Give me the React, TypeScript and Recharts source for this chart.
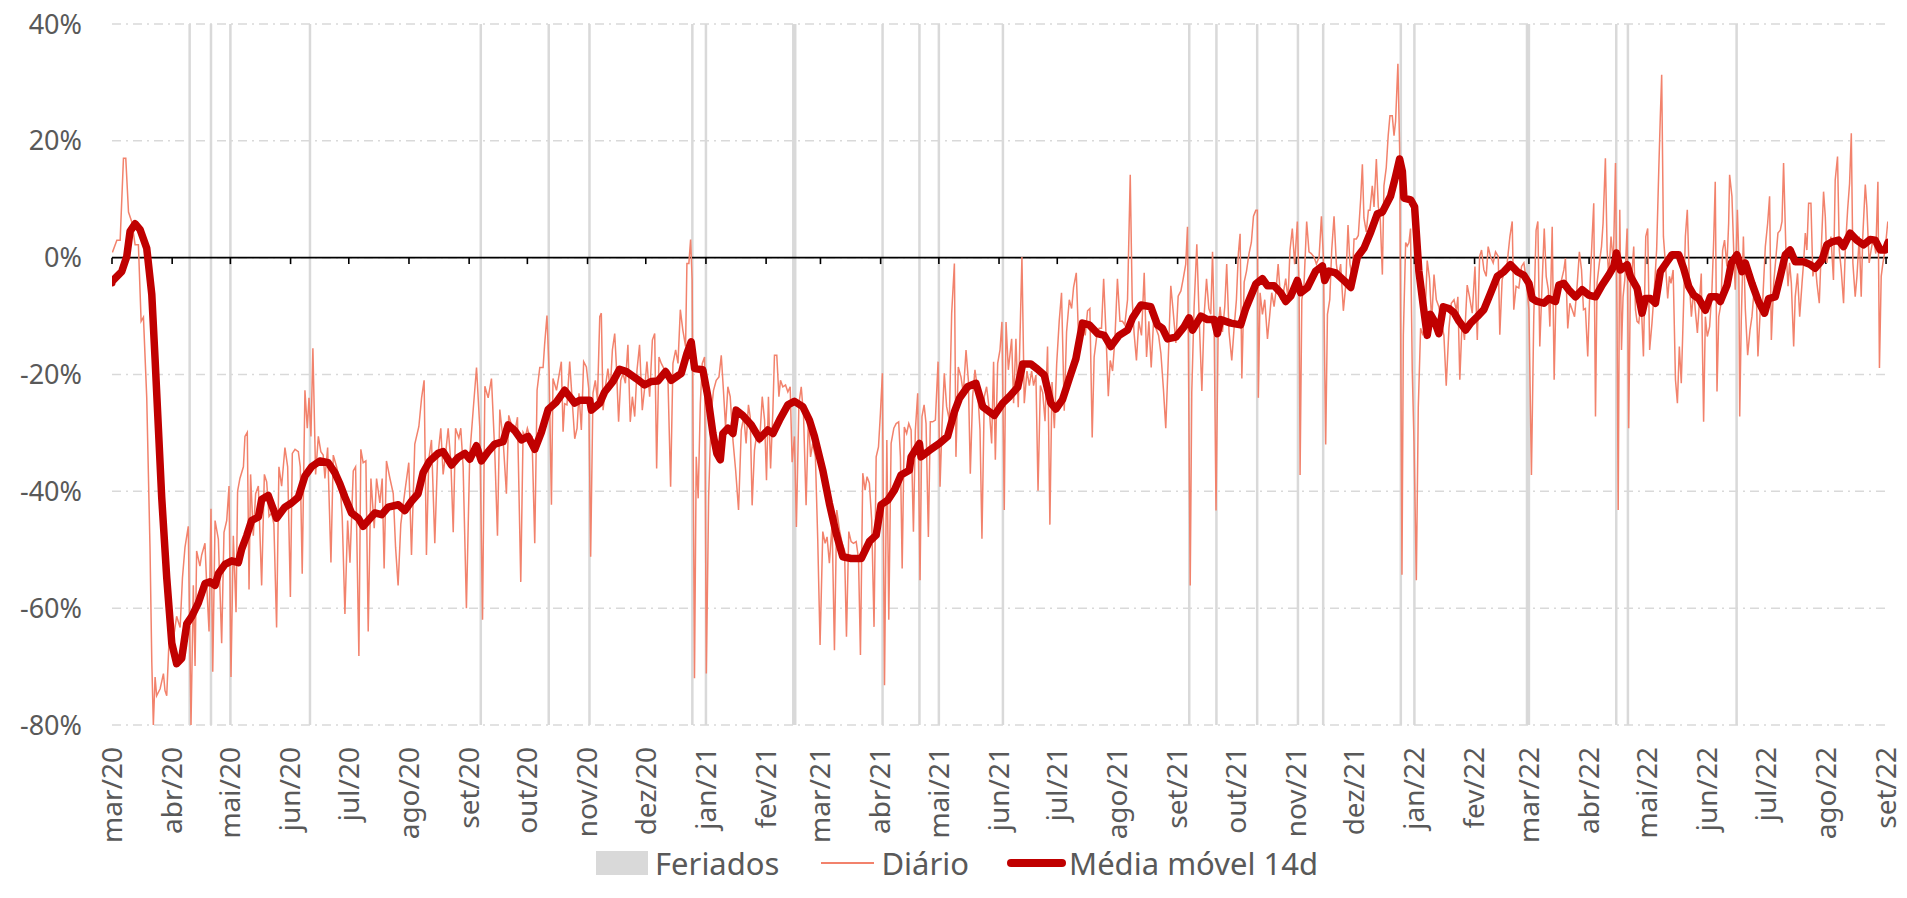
import React from "react"
import { LineChart, Line, XAxis, YAxis, CartesianGrid, ReferenceLine } from "recharts"

// x = days since 2020-03-01
const MONTH_TICKS = [0, 31, 61, 92, 122, 153, 184, 214, 245, 275, 306, 337, 365, 396, 426, 457, 487, 518, 549, 579, 610, 640, 671, 702, 730, 761, 791, 822, 852, 883, 914]
const MONTH_LABELS = [
  "mar/20", "abr/20", "mai/20", "jun/20", "jul/20", "ago/20", "set/20", "out/20", "nov/20", "dez/20",
  "jan/21", "fev/21", "mar/21", "abr/21", "mai/21", "jun/21", "jul/21", "ago/21", "set/21", "out/21", "nov/21", "dez/21",
  "jan/22", "fev/22", "mar/22", "abr/22", "mai/22", "jun/22", "jul/22", "ago/22", "set/22",
]
const Y_TICKS = [-80, -60, -40, -20, 0, 20, 40]

const HOLIDAYS = [40, 51, 61, 102, 190, 225, 246, 299, 306, 351, 352, 397, 416, 426, 459, 555, 569, 590, 611, 624, 664, 671, 729, 730, 775, 781, 837]

// [day, %]
const DAILY: [number, number][] = [
  [0.2, 0.9], [2.5, 3], [4.2, 3], [5.9, 17], [7.1, 17], [8.5, 7.8], [10.2, 6.1], [11.9, 2.2], [13.6, 2.2], [15, -10.9], [16.2, -10.2], [17.9, -24], [19.6, -50], [20.5, -69.2], [21.3, -80], [22.2, -71.8], [23, -75], [24.8, -73.8], [26.5, -71.2], [27.3, -74.1], [28.2, -75], [29.9, -61.4], [31.6, -65.3], [33.3, -61.4], [35.1, -63.3], [36.3, -54.8], [37.6, -49.6], [39.3, -46], [40.7, -80], [41.9, -56.1], [42.8, -69.9], [43.6, -50.2], [45.3, -52.8], [46.2, -50.9], [47.9, -48.9], [48.8, -56.1], [50, -64], [51, -43], [51.9, -70.9], [53.1, -45], [54.8, -48.2], [56.5, -66], [57.7, -47], [59.1, -45], [60.3, -39.1], [61.3, -71.8], [62.5, -47.6], [63.9, -60.7], [64.7, -40], [65.9, -37.8], [67.7, -35.8], [68.5, -30.6], [69.7, -29.9], [70.6, -56.8], [71.4, -37.1], [72.8, -47.6], [74, -40.4], [75.4, -39.1], [77.1, -56.1], [78.5, -37.1], [79.7, -38.4], [80.9, -44.3], [82.2, -43.7], [83.4, -45.6], [84.8, -63.3], [86, -35.8], [87.4, -39.1], [89.1, -32.5], [90.5, -35.8], [91.9, -58.1], [92.9, -33.5], [94.3, -32.8], [96, -33.2], [97, -35.8], [98, -54.1], [99.4, -22.7], [100.6, -29.2], [101.5, -24], [102.5, -30.6], [103.5, -15.5], [104.9, -37.1], [106.3, -30.6], [107.6, -33.2], [108.8, -33.8], [109.7, -37.8], [111.1, -32.5], [112.8, -52.2], [114, -33.8], [115.7, -35.8], [117.4, -38.4], [118.6, -44.3], [120, -61], [121.4, -45], [122.6, -52.2], [124.3, -36.5], [125.5, -35.8], [127.2, -68.2], [128.2, -32.8], [129.4, -35.1], [130.8, -34.8], [132, -64], [133.4, -37.8], [135.1, -46.3], [136.3, -37.8], [138, -42], [139.2, -37.8], [140.2, -53.2], [141.4, -34.8], [143.2, -37.8], [144.9, -40.4], [146.1, -49.6], [147.4, -56.1], [148.8, -45.6], [150.9, -40], [152.9, -35.1], [154.3, -50.9], [156, -31.9], [158.1, -28.9], [159.5, -24], [160.8, -21], [162, -50.9], [163.2, -34.5], [164.6, -31.2], [166.3, -48.9], [167.7, -34.5], [169.4, -29.2], [170.6, -37.1], [171.8, -33.8], [173.2, -29.2], [174.6, -35.1], [175.8, -47], [177, -29.2], [178.7, -30.9], [179.7, -29.2], [180.9, -35.8], [182.6, -60], [184.3, -33.8], [186.1, -26], [187.8, -18.8], [189.5, -29.2], [190.9, -62], [192.1, -22], [193.8, -24], [195.5, -20.7], [197.2, -33.2], [198.6, -47.6], [199.8, -26], [201.5, -31.2], [203.2, -40.4], [204.4, -27], [205.8, -28.6], [207.5, -29.9], [208.9, -27.3], [210.6, -55.5], [211.8, -29.9], [213, -30.6], [214, -29.2], [215.2, -30.6], [216.4, -30.6], [217.8, -48.9], [219, -22.7], [220.4, -18.8], [222.1, -18.8], [222.9, -14.8], [224.1, -9.9], [225.2, -19.4], [226.4, -42.3], [227.2, -20.7], [229, -22.7],
  [231.5, -17.8], [232.4, -29.8], [233.2, -25], [234.4, -25.2], [235.8, -17.8], [237.2, -25], [238.4, -31], [239.6, -29.2], [240.6, -23.2], [241.8, -29.5], [243, -17.8], [244.4, -18.7], [245.6, -22.4], [246.6, -51.2], [247.8, -23.2], [249, -21], [250.1, -24.4], [251.3, -10.1], [252.1, -9.5], [253, -26.1], [254.2, -22.1], [255.5, -19], [256.7, -22.7], [257.8, -15.8], [259, -13], [259.8, -18.1], [261, -28.1], [262.1, -21], [263.3, -19.8], [264.5, -21.5], [265.8, -14.9], [267, -28.1], [268.1, -23.8], [269.3, -27.2], [270.5, -19.2], [271.8, -14.9], [273.2, -26.1], [274.4, -22.4], [275.6, -17.8], [277, -23.8], [278.4, -14.1], [279.6, -13], [280.6, -36.1], [281.8, -17], [283, -18.1], [284.7, -19.2], [286.4, -20.4], [287.8, -39.2], [289, -18.1], [290.4, -15.8], [291.6, -18.1], [292.8, -8.9], [294.1, -12.4], [295.5, -15.2], [296.2, -1], [297.2, -1], [298.1, 3.1], [298.9, -3.8], [300.1, -72], [301, -34.1], [302, -41.2], [303.1, -25], [304.1, -18.1], [305.3, -17], [306.2, -71.2], [307.4, -40.9], [308.7, -26.6], [309.9, -22.7], [311.3, -21], [312.7, -20.4], [313.9, -16.7], [315.1, -23.2], [316.1, -29], [317.3, -22.1], [318.5, -23.8], [319.9, -31.2], [321.3, -36.4], [322.8, -43.2], [324.2, -29.5], [325.5, -27.2], [326.7, -31.8], [327.9, -25.2], [328.8, -27.2], [329.8, -42.4], [331, -33], [332.2, -30.1], [333.6, -31.8], [335, -23.8], [336.2, -27.8], [337.2, -38.1], [338.2, -23.8], [339.3, -36.1], [340.5, -26.1], [341.3, -16.7], [342.5, -16.7], [343.6, -23.8], [344.4, -21], [345.6, -22.1], [347, -21.8], [348.2, -23], [349.4, -22.1], [350.4, -35], [351.6, -30.6], [352.6, -46.1], [353.9, -25], [355.1, -22.1], [356.3, -27.2], [357.6, -42.4], [358.8, -27.2], [359.9, -34.1], [361, -31.8], [362.4, -34.1], [363.6, -48.3], [364.8, -66.3], [366.2, -46.9], [367.4, -48.9], [368.4, -47.8], [369.6, -52.3], [371, -45.5], [372.2, -67.2], [373.4, -43.2], [374.8, -46.6], [376.2, -48.9], [377.4, -50.1], [378.4, -64.9], [379.6, -46.9], [380.8, -48.6], [382, -48.9], [383.4, -48.6], [384.6, -51.5], [385.6, -68], [386.8, -36.9], [388, -39.8], [389, -37.5], [390.2, -38.6], [391.4, -45], [392.6, -63.2], [393.7, -34.1], [394.9, -32.4], [395.9, -26.6], [396.9, -19.8], [398, -73.2], [399.2, -31.2], [400.2, -62], [401.4, -31.8], [402.8, -29.2], [404, -28.4], [405.3, -28.1], [406.2, -34.1], [407.1, -53.2], [408.2, -29], [409.4, -30.1], [410.5, -28.4], [411.7, -29.5], [412.9, -46.9], [413.9, -29.5], [415.1, -23.2], [416.3, -55.2], [417.3, -27.2], [418.4, -25.2], [419.4, -28.4], [420.6, -47.8], [421.6, -28.1], [422.8, -28.1], [424.2, -27.8], [425.6, -17.8], [426.6, -39.2], [427.6, -29], [428.8, -19.8], [430, -25.5], [431.4, -27.8], [432.6, -9.5], [434, -1], [434.8, -34.1], [436, -18.7], [437.4, -20.4], [438.6, -23.2], [440, -15.8], [441.2, -21], [442.2, -37], [443.4, -23.8], [444.6, -19.2], [446, -22.7], [447.2, -29.5], [448.2, -48.1], [449.4, -23.8], [450.6, -22.1], [452, -26.1], [453.2, -31.8], [454.2, -17.8], [455.1, -34.6], [456.3, -18.1], [457.5, -15.8], [458.5, -11], [459.7, -43.2], [460.6, -11], [461.8, -19.2],
  [463.5, -13.9], [464.5, -24.9], [465.7, -13.9], [466.9, -25.6], [468, -10.9], [468.8, 0.1], [470, -24.9], [471.4, -19.4], [472.6, -21.9], [473.8, -19.4], [474.8, -21.9], [476, -20.1], [477.1, -39.9], [478.3, -21.9], [479.5, -23.1], [480.7, -28], [482, -15.2], [483.2, -45.7], [484.3, -21.3], [485.5, -29.2], [486.7, -18.2], [488, -10.9], [489.2, -6], [490.6, -26.2], [491.8, -12.7], [493.2, -7.2], [494.4, -8.7], [495.4, -5.1], [496.8, -2.6], [497.8, -12.1], [498.8, -15.2], [500.2, -10.9], [501.4, -13.3], [502.6, -9.1], [503.8, -8.7], [505, -30.8], [506, -17], [507.4, -13.3], [508.6, -12.1], [509.8, -12.1], [510.9, -3.6], [512.1, -13], [513.3, -23.7], [514.3, -17.6], [515.5, -19.4], [516.7, -13.9], [518, -3.6], [519.3, -10.9], [520.6, -10.9], [521.8, -11.5], [523.2, -7.2], [524.6, 14.2], [525.6, -7.2], [526.6, -13], [527.8, -17.6], [529, -10.9], [530.4, -13.3], [531.8, -2.6], [533, -17], [534.2, -10.9], [535.4, -18.8], [536.6, -10.9], [537.8, -12.1], [539.2, -13.3], [540.4, -16.4], [541.7, -22.5], [542.9, -29.2], [544.1, -18.2], [545.5, -4.8], [546.7, -9.1], [548.1, -14.6], [549.3, -6.6], [550.7, -5.7], [551.9, -3.6], [553.2, -1.1], [554.1, 5.3], [554.6, -17.6], [555.5, -56.1], [556.3, -23.1], [557.5, -8.4], [558.9, 2.3], [560.1, -10.3], [561.5, -22.8], [562.7, -9.7], [563.9, -3.6], [565.1, -8.7], [566.1, -9.7], [567, 1], [567.8, -10.9], [568.8, -43.3], [569.9, -12.1], [570.9, -8.4], [572.1, -12.7], [573.3, -8.4], [574.3, -1.1], [575.5, -12.7], [576.9, -17.6], [578.1, -12.1], [579.3, -7.2], [580.3, 0.7], [581.2, 4.1], [582.1, -20.7], [583.3, -4.2], [584.5, -2.3], [585.8, 0.7], [587, 2.6], [588.1, 7.1], [589.3, 8.1], [590.1, 8.1], [590.6, -24], [591.5, -6], [592.7, -9.7], [593.9, -7.2], [595.3, -13.9], [596.5, -9.7], [597.5, -6], [598.7, -8.4], [599.6, -6], [600.8, -1.1], [602.1, -7.2], [603.5, -6], [604.7, -3.6], [605.9, -7.2], [606.9, 1.3], [608.1, 5], [609.3, -1.1], [610.7, 6.2], [611.6, -4.8], [612.1, -37.2], [613, -7.2], [614.1, -4.8], [615.5, 6.2], [616.7, 1], [617.9, 0.7], [619.3, 0.1], [620.5, -1.1], [621.9, 0.1], [623.1, 7.1], [624.1, 0.1], [625.3, -32], [626.2, -9.7], [627.4, -7.2], [628.4, 1.3], [629.6, 7.1], [630.8, -1.1], [631.8, -3.6], [633, -1.1], [634.4, -9.1], [635.6, -4.8], [636.8, 5.6], [637.8, -1.1], [639, -3.6], [639.9, 3.2], [641.1, 3.2], [642.1, 3.8], [643.3, 9.9], [644.2, 16], [645, 6.8], [646.2, 4.4], [647.3, 8.1], [648.1, 8.1], [649.3, 12.3], [650.2, 8.7], [651.4, 16.9], [652.4, 8.7], [653.3, 7.5], [654.5, -2.9], [655.3, 12.3], [656.5, 15.4], [657.5, 20.9], [658.4, 24.3], [659.6, 24.3], [660.5, 20.9], [661.3, 23.3], [662.5, 33.2], [663.4, 18.5], [663.9, -10.3], [664.6, -54.3], [665.3, -13.3], [666.5, 2.6], [667.3, 2], [668.2, 2.6], [669, 5], [669.9, -19.4], [670.8, -31.7], [672, -55.2], [673, -25.6], [674.2, -12.1], [675.4, -13.3], [676.4, -10.9], [677.6, -0.5], [678.8, -3.6], [679.9, -10.9], [681.1, -2.9], [682.3, -7.2], [683.6, -8.4], [684.8, -10.9], [686.2, -13.3], [687.4, -21.9], [688.8, -12.1], [690, -7.8],
  [691.4, -7.2], [692.6, -9], [693.4, -6.7], [694.4, -20.9], [695.6, -10.7], [696.8, -14.1], [698.2, -4.7], [699.4, -6.7], [700.8, -9.5], [702.2, -1.5], [703.4, -14.1], [704.6, 0.2], [705.6, 1.3], [706.8, -2.1], [708, -3.2], [709, 1.9], [710.2, 0.2], [711.6, -0.9], [712.8, 1], [714.2, 0.2], [715, -13.2], [716.2, -3.8], [717.6, -2.1], [718.8, -0.9], [720.2, 3.6], [721.4, 6.2], [722.2, -8.9], [723.4, -4.9], [724.8, -5.2], [726.2, -1.5], [727.4, -0.9], [728.6, -3.8], [730, -8.9], [731.3, -37.2], [732.5, -10.1], [733.7, 4.7], [734.6, 6.2], [735.6, -15.2], [736.8, -4.4], [737.9, 5], [738.9, -3.2], [740, -5.5], [740.8, -11.8], [742, 5.3], [743, -20.9], [744, -5.5], [745.4, -6.7], [746.8, -3.8], [748, -2.1], [748.8, -0.1], [750, -12.1], [751.1, -7.8], [752.3, -8.9], [753.5, -10.1], [754.7, -5.5], [756, 1], [757.1, -2.1], [758.1, -8.9], [759.1, -8.7], [760.3, -16.9], [761.4, -5.5], [762.6, 3.6], [763.4, 9.3], [764.3, -27.2], [765.1, -4.4], [766.3, -0.9], [767.4, 1.9], [768.2, 5.9], [769.4, 17], [770.3, 1.3], [771.1, -3.2], [772.3, 3.6], [773.5, -0.9], [774.6, 16.2], [775.4, -10.1], [776, -43.2], [776.8, 8.2], [777.7, -15.8], [778.5, -6.7], [779.4, -3.8], [780.6, 5], [781.4, -29.2], [782.3, -4.4], [783.2, -2.1], [784, 1.9], [784.9, -8.9], [785.7, -10.9], [786.6, -11.2], [787.8, -7.2], [789, -16.9], [790.2, 3.6], [791.2, 5], [792.2, -15.8], [793.4, -11.2], [794.6, -5.5], [795.8, 1.3], [796.9, 15], [797.7, 24.2], [798.4, 31.3], [799.3, 3.6], [800.3, -0.9], [801.5, -7], [802.4, -3.2], [803.2, -4.4], [804.3, -2.1], [805.5, -20.9], [806.5, -24.9], [807.5, -15.2], [808.5, -21.5], [809.7, -7.8], [810.6, 3.6], [811.6, 8.2], [812.7, -4.4], [813.7, -10.1], [814.9, -5.5], [815.7, -8.9], [816.8, -12.9], [817.8, -7.8], [818.8, -2.7], [820, -28.1], [820.9, -10.1], [821.9, -13.5], [823.1, -11.8], [824.3, -5.5], [825.2, 3], [826, 13], [826.9, -22.9], [827.8, -10.1], [829, -7.8], [829.8, 1.3], [830.8, 3], [832, -1.5], [832.9, 5.9], [833.4, 14.2], [834.6, 10.5], [835.5, 1.3], [836.3, -5.5], [837.4, 8.2], [838.1, 0.7], [838.6, -27.2], [839.4, -10.9], [840.5, 3.6], [841.5, -8.9], [842.7, -16.7], [843.9, -12.4], [844.9, -10.1], [846.3, -4.4], [847.1, -5.5], [848, -16.9], [849.2, -8.9], [850.4, -7.8], [851.8, 1.9], [853, 5.9], [854, 10.5], [854.9, -14.1], [856.1, -4.4], [857.3, 0.2], [858.3, 4.2], [859.5, 4.7], [860.4, 6.2], [861.2, 16.2], [862.4, 1.3], [863.5, -4.9], [864.3, -0.9], [865.2, -4.4], [866.4, -15.2], [867.2, -6.7], [868.4, -2.7], [869.5, -10.1], [870.7, -4.4], [871.5, -0.9], [872.4, 4.2], [873.2, 1.3], [874.1, 9.3], [875.3, 9.3], [876.3, -3.2], [877.5, -0.9], [878.4, -4.4], [879.6, -7.8], [880.6, 1.3], [881.8, 11.3], [882.7, 7], [883.5, -0.9], [884.4, 1.3], [885.6, 3.6], [886.9, -3.8], [887.8, 13.3], [889, 17.3], [889.9, 1.3], [890.9, -2.1], [892.1, -7.8], [893, 1.3], [894.2, 8.2], [895.2, 12.7], [896.1, 21.3], [896.9, -0.9], [898.1, -6.7], [899, -3.2], [900.2, 3.6], [901.2, -6.7], [902, 3.6], [903.3, 12.5], [904.1, 8.7], [905.3, -0.9], [906.3, 1.3], [907.5, 3.6], [908.7, 0.7], [909.8, 13], [910.6, -18.9], [911.5, -3.2], [912.4, -0.9], [913.5, 1.3], [914.9, 6.2],
]

// [day, %]
const MA14: [number, number][] = [
  [0, -4.3], [0.2, -4], [5, -2.4], [7.6, 0.2], [9.3, 4.5], [11.9, 5.8], [14.5, 4.8], [17.9, 1.6], [20.5, -6.3], [22.2, -17.4], [23.9, -29.2], [25.6, -41], [28.2, -54.8], [30.8, -66], [33.3, -69.5], [35.9, -68.6], [38.5, -62.7], [41.1, -61.4], [44.5, -59.1], [47.9, -55.8], [50.5, -55.5], [53.1, -56.1], [54.8, -54.1], [58.2, -52.5], [61.7, -51.9], [65.1, -52.2], [66.8, -49.9], [69.4, -47.6], [71.9, -45], [75.4, -44.4], [77.1, -41.4], [80.5, -40.7], [84.8, -44.6], [89.1, -42.7], [92.5, -42], [96, -41], [99.4, -37.4], [102.8, -35.8], [107.1, -34.8], [111.4, -35.1], [114.8, -36.8], [117.4, -38.7], [120, -41], [123.4, -43.7], [126.9, -44.6], [129.4, -46], [132, -45], [135.4, -43.7], [138.9, -44], [142.3, -42.7], [147.5, -42.3], [150.9, -43.3], [154.3, -41.7], [157.7, -40.4], [160.3, -36.8], [163.7, -34.8], [168, -33.5], [170.6, -33.2], [174.9, -35.5], [178.3, -34.2], [181.8, -33.5], [184.3, -34.5], [187.8, -32.2], [190.3, -34.8], [193.8, -33.2], [197.2, -31.9], [201.5, -31.5], [204.1, -28.6], [207.5, -29.6], [210.9, -31.2], [214.4, -30.6], [217.8, -32.8], [221.2, -29.9], [224.7, -26], [229, -24.7],
  [233.2, -22.7], [238.4, -24.9], [241, -24.4], [246.1, -24.4], [247, -26.1], [251.3, -24.9], [253.8, -23], [258.1, -21.2], [261.5, -19.1], [265, -19.5], [270.1, -20.7], [274.4, -21.8], [277.8, -21.2], [281.3, -21.1], [285.2, -19.5], [288.1, -21], [293.3, -19.8], [296.2, -16.4], [298.4, -14.4], [300.2, -19], [304.4, -19.2], [307, -23.8], [309.6, -30.1], [311.6, -33.5], [313.4, -34.6], [314.7, -30.1], [317.3, -29.2], [319.9, -30.1], [321.6, -26.1], [325, -27], [329.3, -28.6], [333.6, -31], [337.9, -29.5], [340.5, -30.1], [343.9, -27.8], [348.2, -25.2], [351.6, -24.6], [355.9, -25.5], [359.3, -27.8], [361.9, -30.6], [366.2, -36.4], [369.6, -42.1], [373.1, -47.2], [376.5, -51.2], [380.8, -51.5], [386, -51.5], [390.2, -48.6], [393.7, -47.5], [396.2, -42.3], [399.7, -41.5], [403.1, -39.8], [406.5, -37.2], [410.8, -36.4], [411.7, -34.1], [416, -31.8], [416.8, -34.1], [421.1, -33], [426.3, -31.8], [430.5, -30.6], [434, -26.4], [436.6, -24.1], [440.8, -22.1], [445.1, -21.5], [448.6, -25.5], [454.6, -27], [458.9, -24.9], [462.3, -23.8],
  [466.6, -22.2], [469.2, -18.2], [473.4, -18.2], [476.9, -19.1], [480.3, -20.1], [483.7, -24.9], [486.3, -25.9], [489.7, -24.3], [493.2, -20.7], [496.6, -17.3], [500, -11.2], [503.5, -11.5], [507.8, -13], [511.2, -13.3], [514.6, -15.2], [518.9, -13.3], [523.2, -12.4], [525.8, -10.3], [530.1, -8.1], [535.2, -8.4], [538.6, -11.5], [541.2, -12.1], [543.8, -13.9], [548.1, -13.6], [552.4, -11.8], [554.9, -10.3], [556.7, -12.4], [561, -10], [564.4, -10.6], [567.8, -10.6], [569.5, -13], [571.2, -10.6], [576.4, -11.2], [581.5, -11.5], [584.1, -8.7], [589.3, -4.5], [592.7, -3.6], [595.3, -4.8], [598.7, -4.8], [602.1, -6], [604.7, -7.5], [607.3, -6.6], [610.7, -3.9], [612.4, -6], [615.9, -5.1], [620.1, -2.3], [623.6, -1.4], [624.8, -3.9], [627, -2.3], [630.4, -2.6], [634.7, -3.9], [638.2, -5.1], [641.6, 0.1], [645, 1.6], [648.5, 4.4], [651.9, 7.5], [654.5, 7.8], [658.7, 10.5], [661.3, 13.9], [663.4, 16.9], [664.8, 14.8], [665.6, 10.2], [669.1, 9.9], [671.1, 8.7], [673.3, -2.3], [675.9, -9.1], [677.6, -13.3], [679.3, -9.7], [681.4, -10.9], [683.6, -13], [685.9, -8.4], [688.8, -8.7], [691.4, -9.4],
  [694, -10.9], [697.4, -12.4], [700, -11.2], [703.4, -10.1], [706.8, -8.9], [710.2, -6.1], [713.7, -3.2], [717.1, -2.4], [720.5, -1.2], [724, -2.4], [727.4, -3], [730, -4.4], [731.7, -7], [734.2, -7.5], [737.7, -7.8], [740.3, -7], [743.7, -7.5], [745.4, -4.7], [748, -4.4], [750.5, -5.5], [754, -6.7], [757.4, -5.5], [760.8, -6.4], [764.3, -6.7], [767.7, -4.7], [771.1, -3], [773.7, -1.5], [775.1, 0.8], [777.1, -2.1], [780.6, -1.2], [782.3, -3.2], [785.7, -5.2], [788.3, -9.5], [790, -7], [792.6, -7], [795.2, -7.8], [797.7, -2.4], [801.2, -0.7], [803.7, 0.5], [807.2, 0.5], [809.7, -1.8], [812.3, -4.9], [814.9, -6.4], [817.5, -7], [820.9, -9], [823.5, -6.7], [826.9, -6.7], [828.6, -7.5], [832.1, -4.7], [834.3, -0.9], [837.2, 0.5], [839.8, -2.4], [841.5, -0.9], [844.9, -4.4], [848.3, -7.5], [851.4, -9.5], [853.5, -7], [856.9, -6.7], [859.5, -3.2], [862.1, 0.5], [864.6, 1.3], [867.2, -0.7], [871.5, -0.7], [875, -1.2], [877.5, -1.8], [881, -0.4], [883.5, 2.2], [886.1, 2.7], [889.5, 3], [892.1, 1.9], [895.5, 4.2], [898.9, 3], [902.4, 2.2], [905.8, 3.1], [908.4, 3], [911, 1.3], [913.6, 1.3], [915, 2.6],
]

const GRAY = "#d9d9d9"
const TEXT = "#595959"
const SALMON = "#f2826c"
const DARK_RED = "#c00000"
const FONT = "'Noto Sans', 'Open Sans', sans-serif"

const dailyData = DAILY.map(([day, v]) => ({ day, v }))
const maData = MA14.map(([day, v]) => ({ day, v }))

function MonthTick(props: any) {
  const { x, y, payload } = props
  const label = MONTH_LABELS[MONTH_TICKS.indexOf(payload.value)]
  return (
    <text
      x={x}
      y={y}
      transform={`rotate(-90 ${x} ${y})`}
      textAnchor="end"
      dy="0.35em"
      fill={TEXT}
      fontSize={28}
      fontFamily={FONT}
    >
      {label}
    </text>
  )
}

function LegendBox() {
  const item: React.CSSProperties = { display: "flex", alignItems: "center" }
  return (
    <div
      style={{
        position: "absolute",
        top: 843,
        left: 596,
        display: "flex",
        alignItems: "center",
        fontFamily: FONT,
        fontSize: 31,
        color: TEXT,
        lineHeight: "40px",
        whiteSpace: "nowrap",
      }}
    >
      <div style={item}>
        <span style={{ width: 52, height: 24, background: GRAY, marginRight: 7 }} />
        Feriados
      </div>
      <div style={{ ...item, marginLeft: 42 }}>
        <span style={{ width: 53, height: 2, background: SALMON, marginRight: 7 }} />
        Diário
      </div>
      <div style={{ ...item, marginLeft: 38 }}>
        <span style={{ width: 59, height: 8, borderRadius: 4, background: DARK_RED, marginRight: 3 }} />
        Média móvel 14d
      </div>
    </div>
  )
}

export default function App() {
  return (
    <div style={{ position: "absolute", left: 0, top: 0, width: 1907, height: 898, background: "#fff" }}>
      <LineChart width={1907} height={898} margin={{ top: 24, right: 19, bottom: 63, left: 0 }}>
        <CartesianGrid vertical={false} stroke={GRAY} strokeWidth={1.5} strokeDasharray="9 5 2 5" />
        {HOLIDAYS.map((d) => (
          <ReferenceLine key={`h-${d}`} x={d} stroke={GRAY} strokeWidth={2.5} />
        ))}
        <XAxis
          type="number"
          dataKey="day"
          domain={[0, 915]}
          ticks={MONTH_TICKS}
          interval={0}
          tick={<MonthTick />}
          axisLine={false}
          tickLine={false}
          tickSize={0}
          tickMargin={22}
          height={110}
          allowDataOverflow
        />
        <YAxis
          type="number"
          domain={[-80, 40]}
          ticks={Y_TICKS}
          interval={0}
          width={112}
          axisLine={false}
          tickLine={false}
          tickSize={0}
          tickMargin={30}
          tickFormatter={(v) => `${v}%`}
          tick={{ fill: TEXT, fontSize: 27, fontFamily: FONT }}
          allowDataOverflow
        />
        <ReferenceLine y={0} stroke="#000" strokeWidth={1.6} />
        {MONTH_TICKS.map((d) => (
          <ReferenceLine
            key={`t-${d}`}
            segment={[{ x: d, y: 0 }, { x: d, y: -1.1 }]}
            stroke="#000"
            strokeWidth={1.6}
          />
        ))}
        <Line
          data={dailyData}
          dataKey="v"
          type="linear"
          stroke={SALMON}
          strokeWidth={1.5}
          dot={false}
          activeDot={false}
          isAnimationActive={false}
        />
        <Line
          data={maData}
          dataKey="v"
          type="linear"
          stroke={DARK_RED}
          strokeWidth={7.5}
          strokeLinejoin="round"
          strokeLinecap="round"
          dot={false}
          activeDot={false}
          isAnimationActive={false}
        />
      </LineChart>
      <LegendBox />
    </div>
  )
}
